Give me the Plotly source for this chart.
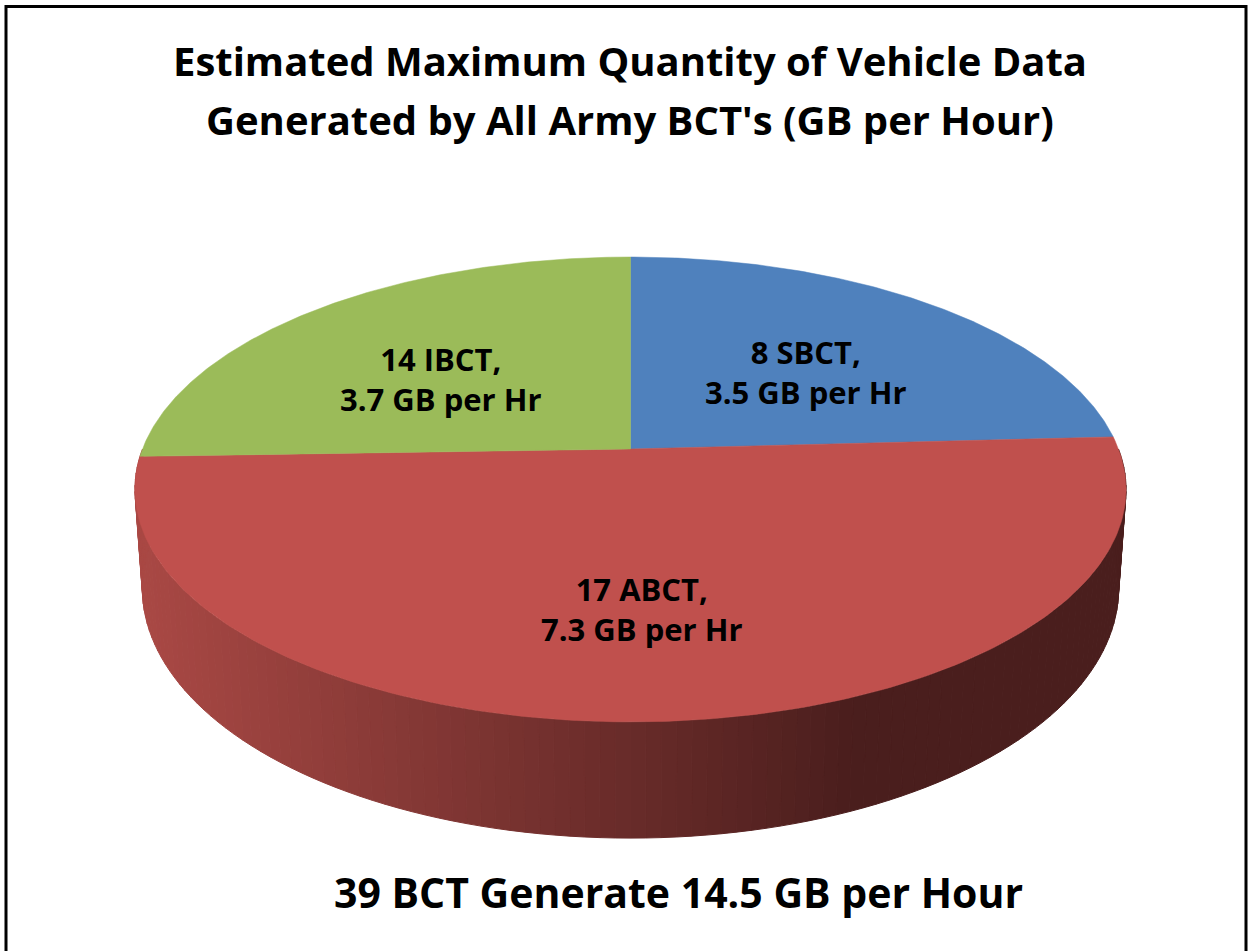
import numpy as np
import plotly.graph_objects as go

# ---------------- data ----------------
categories = ["SBCT", "ABCT", "IBCT"]
bct_counts = [8, 17, 14]
gb_per_hour = [3.5, 7.3, 3.7]
title_lines = ["Estimated Maximum Quantity of Vehicle Data",
               "Generated by All Army BCT's (GB per Hour)"]

# ---------------- style ----------------
top_colors = ["#4f81bd", "#c0504d", "#9bbb59"]
wall_left_rgb = np.array([170, 73, 69])
wall_right_rgb = np.array([74, 30, 29])
FONT = "Open Sans"

W, Hpx = 1249, 951
# perspective projection parameters (pixel space)
cx, cy = 630.5, 449.0
A, B, e = 488.0, 225.4, 0.174
depth, bscale = 96.0, 0.985


def proj(phi_deg, r=1.0):
    phi = np.radians(phi_deg)
    u, v = r * np.sin(phi), r * np.cos(phi)
    d = 1 + e * v
    return cx + A * u / d, cy - B * v / d


def proj_bottom(phi_deg):
    phi = np.radians(phi_deg)
    u, v = np.sin(phi), np.cos(phi)
    d = 1 + e * v
    return cx + bscale * A * u / d, cy - B * v / d + depth / d


vals = np.array(gb_per_hour, dtype=float)
total = vals.sum()
ends = np.cumsum(vals) / total * 360.0
starts = np.concatenate([[0.0], ends[:-1]])

fig = go.Figure()

# ---- side wall (front half, visible part) with horizontal shading ----
edges = np.linspace(90.0, 270.0, 121)
for a0, a1 in zip(edges[:-1], edges[1:]):
    xt0, yt0 = proj(a0)
    xt1, yt1 = proj(a1)
    xb0, yb0 = proj_bottom(a0)
    xb1, yb1 = proj_bottom(a1)
    xm = (xt0 + xt1) / 2
    t = np.clip((xm - 135) / (860 - 135), 0, 1)
    rgb = (wall_left_rgb * (1 - t) + wall_right_rgb * t).astype(int)
    col = "rgb(%d,%d,%d)" % tuple(rgb)
    fig.add_trace(go.Scatter(
        x=[xt0, xt1, xb1, xb0, xt0], y=[yt0, yt1, yb1, yb0, yt0],
        mode="lines", fill="toself", fillcolor=col,
        line=dict(color=col, width=1), hoverinfo="skip", showlegend=False))

# ---- top faces ----
for s, en, col in zip(starts, ends, top_colors):
    angs = np.linspace(s, en, 200)
    px, py = proj(angs)
    xs = np.concatenate([[cx], px, [cx]])
    ys = np.concatenate([[cy], py, [cy]])
    fig.add_trace(go.Scatter(
        x=xs, y=ys, mode="lines", fill="toself", fillcolor=col,
        line=dict(color=col, width=0.5), hoverinfo="skip", showlegend=False))

# ---- data labels ----
label_r = [0.57, 0.62, 0.57]
label_dy = [10, 4, 14]
annotations = []
for s, en, n, cat, v, r, dy in zip(starts, ends, bct_counts, categories, vals,
                                   label_r, label_dy):
    mid = (s + en) / 2
    lx, ly = proj(mid, r)
    annotations.append(dict(
        x=lx - 3, y=ly + dy, xref="x", yref="y", showarrow=False,
        text=f"<b>{n} {cat},<br>{v:g} GB per Hr</b>",
        font=dict(family=FONT, size=31, color="black"), align="center"))

# ---- title and footer ----
annotations.append(dict(x=630, y=60, xref="x", yref="y", showarrow=False,
                        text=f"<b>{title_lines[0]}</b>",
                        font=dict(family=FONT, size=40, color="black")))
annotations.append(dict(x=630, y=119, xref="x", yref="y", showarrow=False,
                        text=f"<b>{title_lines[1]}</b>",
                        font=dict(family=FONT, size=40, color="black")))
annotations.append(dict(x=678, y=892, xref="x", yref="y", showarrow=False,
                        text=f"<b>{sum(bct_counts)} BCT Generate {total:g} GB per Hour</b>",
                        font=dict(family=FONT, size=41, color="black")))

fig.update_layout(
    width=W, height=Hpx, margin=dict(l=0, r=0, t=0, b=0),
    paper_bgcolor="white", plot_bgcolor="white",
    xaxis=dict(range=[0, W], visible=False, fixedrange=True),
    yaxis=dict(range=[Hpx, 0], visible=False, fixedrange=True),
    annotations=annotations,
    shapes=[dict(type="rect", xref="x", yref="y", x0=6, y0=6.5, x1=1246, y1=990,
                 line=dict(color="black", width=3), fillcolor="rgba(0,0,0,0)")],
    showlegend=False,
)

fig.write_html("out.html", config={"displayModeBar": False},
               post_script="document.body.style.margin='0';document.body.style.overflow='hidden';")
